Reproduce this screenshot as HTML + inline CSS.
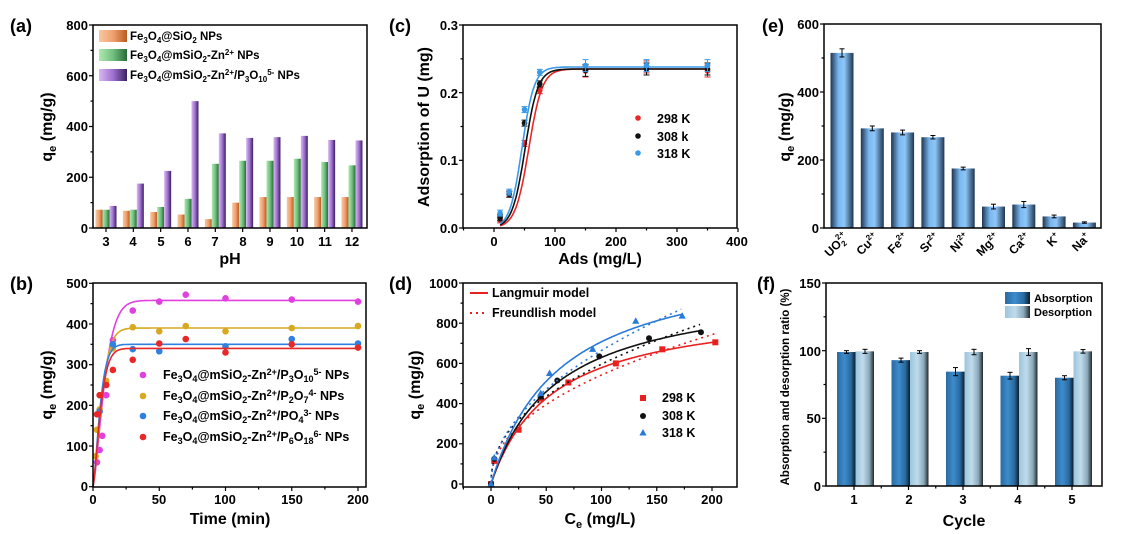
<!DOCTYPE html>
<html><head><meta charset="utf-8"><style>
html,body{margin:0;padding:0;background:#fff;}
svg{display:block;font-family:"Liberation Sans",Arial,sans-serif;font-weight:bold;}
</style></head><body>
<svg id="s" width="1126" height="534" viewBox="0 0 1126 534" xmlns="http://www.w3.org/2000/svg">
<defs>
<linearGradient id="gOr" x1="0" x2="1"><stop offset="0" stop-color="#f8c8a0"/><stop offset="0.5" stop-color="#f0a070"/><stop offset="1" stop-color="#b85c20"/></linearGradient>
<linearGradient id="gGr" x1="0" x2="1"><stop offset="0" stop-color="#b0e8b0"/><stop offset="0.5" stop-color="#70c080"/><stop offset="1" stop-color="#2a6a38"/></linearGradient>
<linearGradient id="gPu" x1="0" x2="1"><stop offset="0" stop-color="#d8b8f0"/><stop offset="0.5" stop-color="#a070d0"/><stop offset="1" stop-color="#3a2060"/></linearGradient>
<linearGradient id="gE" x1="0" x2="1"><stop offset="0" stop-color="#1e3550"/><stop offset="0.35" stop-color="#7ab8f0"/><stop offset="0.6" stop-color="#8ec6f8"/><stop offset="1" stop-color="#1e3550"/></linearGradient>
<linearGradient id="gA" x1="0" x2="1"><stop offset="0" stop-color="#2a6aa0"/><stop offset="0.4" stop-color="#3d8ccc"/><stop offset="0.75" stop-color="#2a6aa0"/><stop offset="1" stop-color="#0c1e2c"/></linearGradient>
<linearGradient id="gD" x1="0" x2="1"><stop offset="0" stop-color="#9cc4dc"/><stop offset="0.4" stop-color="#c0dcec"/><stop offset="0.75" stop-color="#8aa8b8"/><stop offset="1" stop-color="#22282e"/></linearGradient>
</defs>
<g id="data"></g>
<g fill="none" stroke="#000" stroke-width="1.5">
<rect x="93" y="25" width="274" height="203"/>
<rect x="93" y="283" width="273" height="204"/>
<rect x="463" y="25" width="274" height="203"/>
<rect x="463" y="283" width="274" height="204"/>
<rect x="824" y="24" width="277" height="204"/>
<rect x="826" y="283" width="276" height="203"/>
</g>
<g id="ticks" stroke="#000" stroke-width="1.2"></g>
<g font-size="18">
<text x="10" y="32">(a)</text><text x="10" y="290">(b)</text>
<text x="389" y="32">(c)</text><text x="389" y="290">(d)</text>
<text x="762" y="32">(e)</text><text x="757" y="290">(f)</text>
</g>
<g font-size="13" text-anchor="end">
<text x="88" y="233">0</text><text x="88" y="182">200</text><text x="88" y="131">400</text><text x="88" y="81">600</text><text x="88" y="30">800</text>
<text x="88" y="491">0</text><text x="88" y="451">100</text><text x="88" y="410">200</text><text x="88" y="369">300</text><text x="88" y="329">400</text><text x="88" y="288">500</text>
<text x="458" y="233">0.0</text><text x="458" y="165">0.1</text><text x="458" y="98">0.2</text><text x="458" y="30">0.3</text>
<text x="458" y="489">0</text><text x="458" y="448">200</text><text x="458" y="408">400</text><text x="458" y="368">600</text><text x="458" y="328">800</text><text x="458" y="288">1000</text>
<text x="819" y="233">0</text><text x="819" y="165">200</text><text x="819" y="97">400</text><text x="819" y="29">600</text>
<text x="821" y="491">0</text><text x="821" y="423">50</text><text x="821" y="356">100</text><text x="821" y="288">150</text>
</g>
<g font-size="13" text-anchor="middle">
<text x="106" y="246">3</text><text x="133" y="246">4</text><text x="161" y="246">5</text><text x="188" y="246">6</text><text x="215" y="246">7</text><text x="243" y="246">8</text><text x="270" y="246">9</text><text x="297" y="246">10</text><text x="325" y="246">11</text><text x="352" y="246">12</text>
<text x="93" y="504">0</text><text x="159" y="504">50</text><text x="225" y="504">100</text><text x="292" y="504">150</text><text x="358" y="504">200</text>
<text x="494" y="246">0</text><text x="555" y="246">100</text><text x="616" y="246">200</text><text x="677" y="246">300</text><text x="737" y="246">400</text>
<text x="491" y="504">0</text><text x="546" y="504">50</text><text x="601" y="504">100</text><text x="657" y="504">150</text><text x="712" y="504">200</text>
<text x="854" y="504">1</text><text x="909" y="504">2</text><text x="963" y="504">3</text><text x="1018" y="504">4</text><text x="1072" y="504">5</text>
</g>
<g font-size="16" text-anchor="middle">
<text x="230" y="264">pH</text>
<text x="230" y="524">Time (min)</text>
<text x="600" y="264">Ads (mg/L)</text>
<text x="600" y="524">C<tspan font-size="11" dy="4">e</tspan><tspan dy="-4"> (mg/L)</tspan></text>
<text x="964" y="526">Cycle</text>
<text transform="translate(52,127) rotate(-90)">q<tspan font-size="11" dy="4">e</tspan><tspan dy="-4"> (mg/g)</tspan></text>
<text transform="translate(52,385) rotate(-90)">q<tspan font-size="11" dy="4">e</tspan><tspan dy="-4"> (mg/g)</tspan></text>
<text transform="translate(429,127) rotate(-90)">Adsorption of U (mg)</text>
<text transform="translate(420,385) rotate(-90)">q<tspan font-size="11" dy="4">e</tspan><tspan dy="-4"> (mg/g)</tspan></text>
<text transform="translate(790,127) rotate(-90)">q<tspan font-size="11" dy="4">e</tspan><tspan dy="-4"> (mg/g)</tspan></text>
<text font-size="11.5" transform="translate(789,387) rotate(-90)">Absorption and desorption ratio (%)</text>
</g>
<!-- legend a -->
<rect x="99" y="30" width="28" height="12" fill="url(#gOr)"/>
<rect x="99" y="49" width="28" height="12" fill="url(#gGr)"/>
<rect x="99" y="69" width="28" height="12" fill="url(#gPu)"/>
<g font-size="11.5">
<text x="130" y="40">Fe<tspan font-size="8" dy="3">3</tspan><tspan dy="-3">O</tspan><tspan font-size="8" dy="3">4</tspan><tspan dy="-3">@SiO</tspan><tspan font-size="8" dy="3">2</tspan><tspan dy="-3"> NPs</tspan></text>
<text x="130" y="59">Fe<tspan font-size="8" dy="3">3</tspan><tspan dy="-3">O</tspan><tspan font-size="8" dy="3">4</tspan><tspan dy="-3">@mSiO</tspan><tspan font-size="8" dy="3">2</tspan><tspan dy="-3">-Zn</tspan><tspan font-size="8" dy="-4">2+</tspan><tspan dy="4"> NPs</tspan></text>
<text x="130" y="79">Fe<tspan font-size="8" dy="3">3</tspan><tspan dy="-3">O</tspan><tspan font-size="8" dy="3">4</tspan><tspan dy="-3">@mSiO</tspan><tspan font-size="8" dy="3">2</tspan><tspan dy="-3">-Zn</tspan><tspan font-size="8" dy="-4">2+</tspan><tspan dy="4">/P</tspan><tspan font-size="8" dy="3">3</tspan><tspan dy="-3">O</tspan><tspan font-size="8" dy="3">10</tspan><tspan font-size="8" dy="-7">5-</tspan><tspan dy="4"> NPs</tspan></text>
</g>
<!-- legend b -->
<g font-size="12.5">
<text x="163" y="379">Fe<tspan font-size="9" dy="3">3</tspan><tspan dy="-3">O</tspan><tspan font-size="9" dy="3">4</tspan><tspan dy="-3">@mSiO</tspan><tspan font-size="9" dy="3">2</tspan><tspan dy="-3">-Zn</tspan><tspan font-size="9" dy="-4">2+</tspan><tspan dy="4">/P</tspan><tspan font-size="9" dy="3">3</tspan><tspan dy="-3">O</tspan><tspan font-size="9" dy="3">10</tspan><tspan font-size="9" dy="-7">5-</tspan><tspan dy="4"> NPs</tspan></text>
<text x="163" y="400">Fe<tspan font-size="9" dy="3">3</tspan><tspan dy="-3">O</tspan><tspan font-size="9" dy="3">4</tspan><tspan dy="-3">@mSiO</tspan><tspan font-size="9" dy="3">2</tspan><tspan dy="-3">-Zn</tspan><tspan font-size="9" dy="-4">2+</tspan><tspan dy="4">/P</tspan><tspan font-size="9" dy="3">2</tspan><tspan dy="-3">O</tspan><tspan font-size="9" dy="3">7</tspan><tspan font-size="9" dy="-7">4-</tspan><tspan dy="4">  NPs</tspan></text>
<text x="163" y="420">Fe<tspan font-size="9" dy="3">3</tspan><tspan dy="-3">O</tspan><tspan font-size="9" dy="3">4</tspan><tspan dy="-3">@mSiO</tspan><tspan font-size="9" dy="3">2</tspan><tspan dy="-3">-Zn</tspan><tspan font-size="9" dy="-4">2+</tspan><tspan dy="4">/PO</tspan><tspan font-size="9" dy="3">4</tspan><tspan font-size="9" dy="-7">3-</tspan><tspan dy="4">   NPs</tspan></text>
<text x="163" y="441">Fe<tspan font-size="9" dy="3">3</tspan><tspan dy="-3">O</tspan><tspan font-size="9" dy="3">4</tspan><tspan dy="-3">@mSiO</tspan><tspan font-size="9" dy="3">2</tspan><tspan dy="-3">-Zn</tspan><tspan font-size="9" dy="-4">2+</tspan><tspan dy="4">/P</tspan><tspan font-size="9" dy="3">6</tspan><tspan dy="-3">O</tspan><tspan font-size="9" dy="3">18</tspan><tspan font-size="9" dy="-7">6-</tspan><tspan dy="4"> NPs</tspan></text>
</g>
<!-- legend c -->
<g font-size="12.5"><text x="657" y="123">298 K</text><text x="657" y="141">308 k</text><text x="657" y="158">318 K</text></g>
<!-- legend d -->
<line x1="470" y1="293" x2="488" y2="293" stroke="#e82020" stroke-width="2"/>
<line x1="470" y1="313" x2="488" y2="313" stroke="#e82020" stroke-width="2" stroke-dasharray="2,4"/>
<g font-size="12.5"><text x="492" y="297">Langmuir model</text><text x="492" y="317">Freundlish model</text>
<text x="662" y="402">298 K</text><text x="662" y="420">308 K</text><text x="662" y="437">318 K</text></g>
<!-- legend f -->
<rect x="1005" y="292" width="25" height="12" fill="url(#gA)"/>
<rect x="1005" y="306" width="25" height="12" fill="url(#gD)"/>
<g font-size="11"><text x="1034" y="302">Absorption</text><text x="1034" y="316">Desorption</text></g>
<!-- e labels -->
<g font-size="12" text-anchor="end">
<text transform="translate(849,238) rotate(-45)">UO<tspan font-size="8" dy="3">2</tspan><tspan font-size="8" dx="-4" dy="-9">2+</tspan></text>
<text transform="translate(879,238) rotate(-45)">Cu<tspan font-size="8" dy="-5">2+</tspan></text>
<text transform="translate(909,238) rotate(-45)">Fe<tspan font-size="8" dy="-5">2+</tspan></text>
<text transform="translate(940,238) rotate(-45)">Sr<tspan font-size="8" dy="-5">2+</tspan></text>
<text transform="translate(970,238) rotate(-45)">Ni<tspan font-size="8" dy="-5">2+</tspan></text>
<text transform="translate(1000,238) rotate(-45)">Mg<tspan font-size="8" dy="-5">2+</tspan></text>
<text transform="translate(1031,238) rotate(-45)">Ca<tspan font-size="8" dy="-5">2+</tspan></text>
<text transform="translate(1061,238) rotate(-45)">K<tspan font-size="8" dy="-5">+</tspan></text>
<text transform="translate(1091,238) rotate(-45)">Na<tspan font-size="8" dy="-5">+</tspan></text>
</g>
</svg>
<script>
var NS="http://www.w3.org/2000/svg",D=document.getElementById("data"),T=document.getElementById("ticks");
function el(t,a,p){var e=document.createElementNS(NS,t);for(var k in a)e.setAttribute(k,a[k]);(p||D).appendChild(e);return e;}
function ln(x1,y1,x2,y2,p){el("line",{x1:x1,y1:y1,x2:x2,y2:y2},p||T);}
function yt(x,ys,minor){ys.forEach(function(y){ln(x,y,x-4,y);});(minor||[]).forEach(function(y){ln(x,y,x-2.5,y);});}
function xt(y,xs,minor){xs.forEach(function(x){ln(x,y,x,y+4);});(minor||[]).forEach(function(x){ln(x,y,x,y+2.5);});}
function rng(a,b,s){var r=[];for(var v=a;v<=b+1e-9;v+=s)r.push(v);return r;}
var Ay=function(v){return 228-v*203/800},Ax=function(p){return 106+(p-3)*27.33};
yt(93,rng(0,800,200).map(Ay),rng(100,700,200).map(Ay));xt(228,rng(3,12,1).map(Ax));
var By=function(v){return 486.7-v*0.4068},Bx=function(t){return 93+t*1.325};
yt(93,rng(0,500,100).map(By),rng(50,450,100).map(By));xt(487,rng(0,200,50).map(Bx),rng(25,175,50).map(Bx));
var Cy=function(v){return 228-v*203/0.3},Cx=function(x){return 494+x*0.61};
yt(463,rng(0,0.3,0.1).map(Cy),rng(0.05,0.25,0.1).map(Cy));xt(228,rng(0,400,100).map(Cx),rng(-50,350,100).map(Cx).filter(function(x){return x>463}));
var Dy=function(v){return 484-v*0.201},Dx=function(c){return 491+c*1.105};
yt(463,rng(0,1000,200).map(Dy),rng(100,900,200).map(Dy));xt(487,rng(0,200,50).map(Dx),rng(-25,225,50).map(Dx).filter(function(x){return x>463&&x<737}));
var Ey=function(v){return 228-v*204/600};
yt(824,rng(0,600,200).map(Ey),rng(100,500,200).map(Ey));
var Fy=function(v){return 486-v*203/150},Fx=function(i){return 854+(i-1)*54.5};
yt(826,rng(0,150,50).map(Fy),rng(25,125,50).map(Fy));xt(486,rng(1,5,1).map(Fx),rng(1.5,4.5,1).map(Fx));
var o=[72,68,63,53,35,100,122,122,122,122],g=[72,72,83,115,253,265,265,273,260,247],pu=[87,175,225,500,373,355,358,363,347,345];
for(var i=0;i<10;i++){var cx=Ax(i+3);[[o,"gOr",-10.5],[g,"gGr",-3.5],[pu,"gPu",3.5]].forEach(function(s){var v=s[0][i];el("rect",{x:cx+s[2],y:Ay(v),width:7,height:228-Ay(v),fill:"url(#"+s[1]+")"});});}
function ball(x,y,c,r){el("circle",{cx:x,cy:y,r:r||3.3,fill:c});}
var bs=[["#e040e0",458,0.1,[[3,60],[5,90],[7,125],[10,225],[15,360],[30,433],[50,455],[70,472],[100,463],[150,460],[200,455]]],
["#d8a820",390,0.13,[[2,75],[3,140],[5,190],[10,260],[15,340],[30,392],[50,382],[70,395],[100,382],[150,390],[200,395]]],
["#3080e0",350,0.16,[[5,185],[15,350],[30,338],[50,333],[100,345],[150,363],[200,352]]],
["#e82828",340,0.15,[[3,178],[5,225],[10,250],[15,287],[30,312],[50,352],[70,363],[100,330],[150,350],[200,342]]]];
bs.forEach(function(s){var d="";for(var t=0;t<=200;t+=1){var v=s[1]*(1-Math.exp(-Math.pow(s[2]*t,1.4)));d+=(t?"L":"M")+Bx(t).toFixed(1)+","+By(v).toFixed(1);}
el("path",{d:d,fill:"none",stroke:s[0],"stroke-width":1.6});s[3].forEach(function(p){ball(Bx(p[0]),By(p[1]),s[0]);});});
[375,396,416,437].forEach(function(y,i){ball(143,y,bs[i][0]);});
var cs=[["#e82828",0.235,57,11,[[10,0.012],[25,0.05],[50,0.125],[75,0.203],[150,0.232],[250,0.238],[350,0.232]]],
["#111",0.235,51,10.5,[[10,0.015],[25,0.05],[50,0.155],[75,0.213],[150,0.233],[250,0.235],[350,0.235]]],
["#3a9ae8",0.238,46,10,[[10,0.022],[25,0.053],[50,0.175],[75,0.23],[150,0.24],[250,0.24],[350,0.24]]]];
cs.forEach(function(s){var d="";for(var x=10;x<=350;x+=2){var v=s[1]/(1+Math.exp(-(x-s[2])/s[3]));d+=(x>10?"L":"M")+Cx(x).toFixed(1)+","+Cy(v).toFixed(1);}
el("path",{d:d,fill:"none",stroke:s[0],"stroke-width":1.6});s[4].forEach(function(p){var x=Cx(p[0]),y=Cy(p[1]),e=p[0]>=150?6:3;el("line",{x1:x,y1:y-e,x2:x,y2:y+e,stroke:s[0],"stroke-width":1});el("line",{x1:x-3,y1:y-e,x2:x+3,y2:y-e,stroke:s[0]});el("line",{x1:x-3,y1:y+e,x2:x+3,y2:y+e,stroke:s[0]});ball(x,y,s[0],2.8);});});
[118,136,153].forEach(function(y,i){ball(638,y,cs[i][0],2.8);});
var ds=[["#e82020",900,0.018,66.7,0.455,203,[[0,0],[3,115],[25,270],[45,425],[70,505],[113,600],[155,670],[203,705]],"sq"],
["#111",1000,0.017,75,0.45,190,[[0,0],[3,125],[45,435],[60,515],[98,635],[143,725],[190,755]],"ci"],
["#2a7ad8",1150,0.016,68,0.495,173,[[0,0],[3,130],[45,450],[53,550],[92,670],[131,810],[173,835]],"tr"]];
function mk(x,y,c,t){if(t=="sq")el("rect",{x:x-3,y:y-3,width:6,height:6,fill:c});else if(t=="ci")ball(x,y,c,3);else el("path",{d:"M"+x+","+(y-4)+"L"+(x+3.6)+","+(y+2.5)+"L"+(x-3.6)+","+(y+2.5)+"Z",fill:c});}
ds.forEach(function(s){var d="",f="";for(var c=0;c<=s[5];c+=1){var v=s[1]*s[2]*c/(1+s[2]*c);d+=(c?"L":"M")+Dx(c).toFixed(1)+","+Dy(v).toFixed(1);}
for(var c=0.2;c<=s[5];c+=1){var v=s[3]*Math.pow(c,s[4]);f+=(c>0.2?"L":"M")+Dx(c).toFixed(1)+","+Dy(v).toFixed(1);}
el("path",{d:f,fill:"none",stroke:s[0],"stroke-width":1.6,"stroke-dasharray":"2,4"});
el("path",{d:d,fill:"none",stroke:s[0],"stroke-width":1.6});s[6].forEach(function(p){mk(Dx(p[0]),Dy(p[1]),s[0],s[7]);});});
[398,416,433].forEach(function(y,i){mk(643,y,ds[i][0],ds[i][7]);});
var ev=[515,293,281,267,175,63,69,34,16],ee=[12,7,7,5,4,7,9,4,2];
function eb(x,y,e){el("line",{x1:x,y1:y-e,x2:x,y2:y+e,stroke:"#000","stroke-width":1});el("line",{x1:x-2.5,y1:y-e,x2:x+2.5,y2:y-e,stroke:"#000"});el("line",{x1:x-2.5,y1:y+e,x2:x+2.5,y2:y+e,stroke:"#000"});}
ev.forEach(function(v,i){var cx=842+i*30.3;el("rect",{x:cx-11.5,y:Ey(v),width:23,height:228-Ey(v),fill:"url(#gE)"});eb(cx,Ey(v),ee[i]*204/600);});
var fa=[99,93,84.5,81.5,80],fae=[1,1.5,3,2.5,1.5],fd=[99.5,99,99,99,99.5],fde=[1.5,1,2,2.5,1.3];
for(var i=0;i<5;i++){var cx=Fx(i+1);el("rect",{x:cx-17,y:Fy(fa[i]),width:18.5,height:486-Fy(fa[i]),fill:"url(#gA)"});el("rect",{x:cx+1.5,y:Fy(fd[i]),width:18.5,height:486-Fy(fd[i]),fill:"url(#gD)"});
eb(cx-7.5,Fy(fa[i]),fae[i]*203/150);eb(cx+11,Fy(fd[i]),fde[i]*203/150);}
</script>
</body></html>
